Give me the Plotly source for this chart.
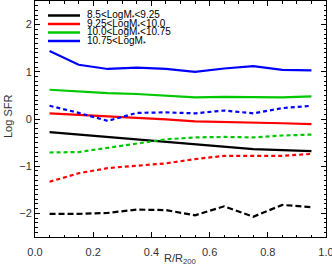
import plotly.graph_objects as go

r_bins = [0.05, 0.15, 0.25, 0.35, 0.45, 0.55, 0.65, 0.75, 0.85, 0.95]

labels = ["8.5&lt;LogM<sub>*</sub>&lt;9.25", "9.25&lt;LogM<sub>*</sub>&lt;10.0",
          "10.0&lt;LogM<sub>*</sub>&lt;10.75", "10.75&lt;LogM<sub>*</sub>"]
colors = ["#000000", "#ff0000", "#00c800", "#0000ff"]

# solid lines (one per mass bin)
solid_black = [-0.28, -0.33, -0.38, -0.43, -0.48, -0.53, -0.59, -0.64, -0.66, -0.68]
solid_red = [0.12, 0.09, 0.06, 0.03, -0.01, -0.05, -0.06, -0.08, -0.09, -0.11]
solid_green = [0.62, 0.58, 0.55, 0.53, 0.50, 0.46, 0.47, 0.46, 0.46, 0.48]
solid_blue = [1.44, 1.15, 1.06, 1.09, 1.06, 1.00, 1.07, 1.12, 1.04, 1.03]

# dashed / dotted lines (one per mass bin)
dash_black = [-2.01, -2.01, -1.99, -1.92, -1.93, -2.04, -1.85, -2.07, -1.82, -1.87]
dash_red = [-1.33, -1.15, -1.04, -0.99, -0.94, -0.85, -0.78, -0.78, -0.78, -0.74]
dash_green = [-0.71, -0.70, -0.61, -0.52, -0.43, -0.39, -0.38, -0.39, -0.35, -0.33]
dash_blue = [0.28, 0.13, -0.04, 0.13, 0.14, 0.12, 0.18, 0.12, 0.23, 0.28]

solids = [solid_black, solid_red, solid_green, solid_blue]
dashes = [dash_black, dash_red, dash_green, dash_blue]
dash_styles = ["6px,3px", "4px,3px", "4px,3px", "4px,3px"]

fig = go.Figure()
for vals, c, lab in zip(solids, colors, labels):
    fig.add_trace(go.Scatter(x=r_bins, y=vals, mode="lines", name=lab,
                             line=dict(color=c, width=2.2), showlegend=False))
for vals, c, ds in zip(dashes, colors, dash_styles):
    fig.add_trace(go.Scatter(x=r_bins, y=vals, mode="lines",
                             line=dict(color=c, width=2.2, dash=ds), showlegend=False))

W, H = 332, 268
L, R, T, B = 35, 6, 1, 31
pw, ph = W - L - R, H - T - B

def px2paper(x, y):
    return (x - L) / pw, 1 - (y - T) / ph

rows = [15.5, 24, 32.5, 41]
for lab, c, yy in zip(labels, colors, rows):
    x0, y0 = px2paper(48, yy)
    x1, _ = px2paper(80, yy)
    fig.add_shape(type="line", xref="paper", yref="paper", x0=x0, x1=x1, y0=y0, y1=y0,
                  line=dict(color=c, width=2.5))
    tx, ty = px2paper(86, yy)
    fig.add_annotation(xref="paper", yref="paper", x=tx, y=ty, text=lab, showarrow=False,
                       xanchor="left", yanchor="middle", borderpad=0,
                       font=dict(size=10, color="#000"))

axis_common = dict(showline=True, linecolor="#000", linewidth=1, mirror="allticks",
                   ticks="inside", tickcolor="#000", ticklen=5, tickwidth=1,
                   showgrid=False, zeroline=False, automargin=False,
                   ticklabeloverflow="allow",
                   tickfont=dict(size=11, color="#333"))

fig.update_xaxes(range=[0, 1], tickvals=[0, 0.2, 0.4, 0.6, 0.8, 1.0],
                 ticktext=["0.0", "0.2", "0.4", "0.6", "0.8", "1.0"], ticklabelstandoff=5,
                 minor=dict(dtick=0.05, ticklen=2.5, tickcolor="#000", ticks="inside"),
                 **axis_common)
fig.update_yaxes(range=[-2.5, 2.5], tickvals=[-2, -1, 0, 1, 2],
                 minor=dict(dtick=0.1, ticklen=2.5, tickcolor="#000", ticks="inside"),
                 **axis_common)

fig.add_annotation(xref="paper", yref="paper", x=px2paper(180, 0)[0], y=px2paper(0, 259)[1],
                   text="R/R<sub>200</sub>", showarrow=False, xanchor="center", yanchor="middle",
                   borderpad=0, font=dict(size=11, color="#333"))
fig.add_annotation(xref="paper", yref="paper", x=px2paper(8, 0)[0], y=px2paper(0, 117)[1],
                   text="Log SFR", showarrow=False, textangle=-90, xanchor="center",
                   yanchor="middle", borderpad=0, font=dict(size=11, color="#333"))

fig.update_layout(template="none", width=W, height=H, margin=dict(l=L, r=R, t=T, b=B),
                  plot_bgcolor="white", paper_bgcolor="white",
                  font=dict(family="Liberation Sans, Arial, sans-serif"),
                  showlegend=False)
fig.write_html("out.html", config={"displayModeBar": False},
               post_script="document.body.style.margin='0';document.body.style.overflow='hidden';")
